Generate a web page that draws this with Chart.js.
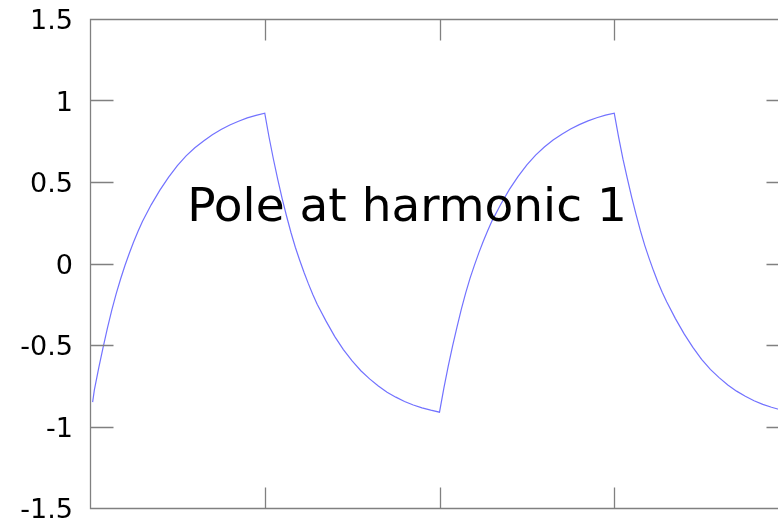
<!DOCTYPE html>
<html>
<head>
<meta charset="utf-8">
<script src="https://cdn.jsdelivr.net/npm/chart.js@4"></script>
<style>
	html, body { margin: 0; padding: 0; background: #fff; overflow: hidden; }
	#wrap { position: absolute; left: 0; top: 0; width: 800px; height: 528px; }
</style>
</head>
<body>
<div id="wrap"><canvas id="poleChart" width="800" height="528"></canvas></div>
<script>
// time axis (periods of the square wave) and the filtered response
const xs = [
	0.015, 0.025, 0.05, 0.075, 0.10, 0.125, 0.15, 0.175, 0.20, 0.225, 0.25, 0.275, 0.30, 0.35, 0.40, 0.45, 0.50, 0.55, 0.60, 0.65, 0.70, 0.75, 0.80, 0.85, 0.90, 0.95, 1.00,
	1.025, 1.05, 1.075, 1.10, 1.125, 1.15, 1.175, 1.20, 1.225, 1.25, 1.275, 1.30, 1.35, 1.40, 1.45, 1.50, 1.55, 1.60, 1.65, 1.70, 1.75, 1.80, 1.85, 1.90, 1.95, 2.00,
	2.025, 2.05, 2.075, 2.10, 2.125, 2.15, 2.175, 2.20, 2.225, 2.25, 2.275, 2.30, 2.35, 2.40, 2.45, 2.50, 2.55, 2.60, 2.65, 2.70, 2.75, 2.80, 2.85, 2.90, 2.95, 3.00,
	3.025, 3.05, 3.075, 3.10, 3.125, 3.15, 3.175, 3.20, 3.225, 3.25, 3.275, 3.30, 3.35, 3.40, 3.45, 3.50, 3.55, 3.60, 3.65, 3.70, 3.75, 3.80, 3.85, 3.90, 3.95, 4.00
]
const ys = [
	-0.85, -0.775, -0.64, -0.515, -0.395, -0.285, -0.185, -0.095, -0.012, 0.063, 0.133, 0.198, 0.258, 0.36, 0.45, 0.53, 0.60, 0.66, 0.71, 0.752, 0.79, 0.822, 0.85, 0.873, 0.893, 0.909, 0.922,
	0.773, 0.638, 0.513, 0.397, 0.29, 0.19, 0.10, 0.02, -0.055, -0.125, -0.19, -0.25, -0.352, -0.447, -0.528, -0.598, -0.658, -0.708, -0.752, -0.79, -0.82, -0.847, -0.868, -0.886, -0.90, -0.912,
	-0.765, -0.63, -0.505, -0.39, -0.28, -0.18, -0.09, -0.01, 0.065, 0.135, 0.20, 0.26, 0.362, 0.455, 0.535, 0.605, 0.665, 0.715, 0.757, 0.793, 0.825, 0.852, 0.875, 0.894, 0.91, 0.922,
	0.775, 0.64, 0.52, 0.405, 0.30, 0.20, 0.11, 0.03, -0.045, -0.115, -0.178, -0.235, -0.338, -0.432, -0.515, -0.588, -0.65, -0.70, -0.745, -0.783, -0.815, -0.842, -0.864, -0.882, -0.897, -0.91
]
const xTicks = [0, 1, 2, 3, 4]
const yTicks = [-1.5, -1, -0.5, 0, 0.5, 1, 1.5]
const labelText = 'Pole at harmonic 1'

const points = xs.map((x, i) => ({ x: x, y: ys[i] }))

// gnuplot style frame with inward ticks on all four sides, plus the label
const framePlugin = {
	id: 'frame',
	afterDraw(chart) {
		const ctx = chart.ctx
		const area = chart.chartArea
		const sx = chart.scales.x
		const sy = chart.scales.y
		const l = Math.round(area.left) + 0.5
		const r = Math.round(area.right) + 0.5
		const t = Math.round(area.top) + 0.5
		const b = Math.round(area.bottom) + 0.5
		ctx.save()
		ctx.strokeStyle = '#808080'
		ctx.lineWidth = 1.3
		ctx.beginPath()
		ctx.rect(l, t, r - l, b - t)
		xTicks.forEach(v => {
			const px = Math.round(sx.getPixelForValue(v)) + 0.5
			ctx.moveTo(px, t); ctx.lineTo(px, t + 21)
			ctx.moveTo(px, b); ctx.lineTo(px, b - 21)
		})
		yTicks.forEach(v => {
			const py = Math.round(sy.getPixelForValue(v)) + 0.5
			ctx.moveTo(l, py); ctx.lineTo(l + 23, py)
			ctx.moveTo(r, py); ctx.lineTo(r - 23, py)
		})
		ctx.stroke()

		ctx.fillStyle = '#000'
		ctx.font = '47px "DejaVu Sans"'
		ctx.textAlign = 'left'
		ctx.textBaseline = 'alphabetic'
		ctx.fillText(labelText, sx.getPixelForValue(0.556), sy.getPixelForValue(0.258))
		ctx.restore()
	}
}

const chart = new Chart('poleChart', {
	type: 'line',
	data: {
		datasets: [
			{
				data: points,
				borderColor: '#7272ff',
				borderWidth: 1.2,
				pointRadius: 0,
				tension: 0,
				fill: false
			}
		]
	},
	options: {
		responsive: false,
		animation: false,
		layout: { padding: { left: 0, top: 19, right: 11, bottom: 20 } },
		plugins: {
			legend: { display: false },
			tooltip: { enabled: false }
		},
		scales: {
			x: {
				type: 'linear',
				min: 0,
				max: 4,
				grid: { display: false, drawTicks: false, tickLength: 0 },
				border: { display: false },
				ticks: { display: false },
				afterFit: function (scale) {
					scale.height = 0
					scale.paddingLeft = 0
					scale.paddingRight = 0
				}
			},
			y: {
				min: -1.5,
				max: 1.5,
				grid: { display: false, drawTicks: false, tickLength: 0 },
				border: { display: false },
				ticks: {
					stepSize: 0.5,
					padding: 17,
					labelOffset: 3,
					color: '#000',
					font: { family: 'DejaVu Sans', size: 27 },
					callback: function (value) { return String(value) }
				},
				afterFit: function (scale) {
					scale.width = 90
					scale.paddingTop = 0
					scale.paddingBottom = 0
				}
			}
		}
	},
	plugins: [framePlugin]
})
</script>
</body>
</html>
